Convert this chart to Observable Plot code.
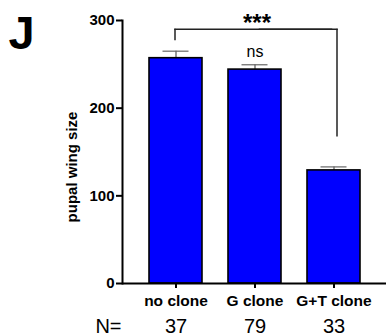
<!DOCTYPE html>
<html>
<head>
<meta charset="utf-8">
<script src="https://cdn.jsdelivr.net/npm/d3@7"></script>
<script src="https://cdn.jsdelivr.net/npm/@observablehq/plot@0.6"></script>
<style>
  html, body { margin: 0; padding: 0; background: #fff; }
  svg { font-family: "Liberation Sans", Arial, sans-serif; }
</style>
</head>
<body>
<div id="chart"></div>
<script>
const categories = ["no clone", "G clone", "G+T clone"];
const means = [257, 244, 129];
const upperErr = [265, 249.5, 133];
const counts = ["37", "79", "33"];
const yTicks = [0, 100, 200, 300];
const bracketTop = 290;
const bracketLeftEnd = 277;
const bracketRightEnd = 167;
const sigLabels = [{x: "G clone", y: 290, text: "***"}];
const nsLabels = [{x: "G clone", y: 249.5, text: "ns"}];

const bars = categories.map((c, i) => ({cat: c, mean: means[i], hi: upperErr[i], n: counts[i]}));
const bracketSegA = [{x1: categories[0], x2: categories[2], y: bracketTop}];
const bracketSegB = [{x1: categories[1], x2: categories[2], y: bracketTop}];

const chart = Plot.plot({
  width: 386,
  height: 336,
  marginLeft: 122,
  marginRight: 0,
  marginTop: 20,
  marginBottom: 53,
  style: {fontFamily: '"Liberation Sans", Arial, sans-serif', background: "#fff", overflow: "visible"},
  x: {domain: categories, paddingInner: 0.333, paddingOuter: 0.336, label: null},
  y: {domain: [0, 300], label: null},
  marks: [
    Plot.ruleX(bars, {x: "cat", y1: "mean", y2: "hi", stroke: "#555", strokeWidth: 1.2}),
    Plot.tickY(bars, {x: "cat", y: "hi", stroke: "#666", strokeWidth: 1.2, insetLeft: 13.5, insetRight: 13.5}),
    Plot.barY(bars, {x: "cat", y: "mean", fill: "#0000ff", stroke: "#000", strokeWidth: 1.6}),
    Plot.axisY({ticks: yTicks, tickSize: 6, tickPadding: 2, strokeWidth: 2, fontSize: 15, fontWeight: "bold", fill: "#000", label: null}),
    Plot.axisX({tickSize: 5, tickPadding: 6, strokeWidth: 2, fontSize: 15.5, fontWeight: "bold", fill: "#000", label: null}),
    Plot.frame({anchor: "left", stroke: "#000", strokeWidth: 2}),
    Plot.ruleY([0], {stroke: "#000", strokeWidth: 2}),
    Plot.ruleX([categories[0]], {y1: bracketLeftEnd, y2: bracketTop, stroke: "#222", strokeWidth: 1.5, dx: -1}),
    Plot.ruleX([categories[2]], {y1: bracketRightEnd, y2: bracketTop, stroke: "#222", strokeWidth: 1.5, dx: 3}),
    Plot.link(bracketSegA, {x1: "x1", x2: "x2", y1: "y", y2: "y", stroke: "#222", strokeWidth: 1.5, dx: -1.75}),
    Plot.link(bracketSegB, {x1: "x1", x2: "x2", y1: "y", y2: "y", stroke: "#222", strokeWidth: 1.5, dx: 3.75}),
    Plot.text(sigLabels, {x: "x", y: "y", text: "text", fontSize: 24, fontWeight: "bold", lineAnchor: "bottom", dy: 2, dx: 2}),
    Plot.text(nsLabels, {x: "x", y: "y", text: "text", fontSize: 16, lineAnchor: "bottom", dy: -8}),
    Plot.text(bars, {x: "cat", text: "n", frameAnchor: "bottom", dy: 49, fontSize: 20, lineAnchor: "bottom"}),
    Plot.text(["N="], {frameAnchor: "bottom-left", dx: -1, dy: 49, textAnchor: "end", fontSize: 20, lineAnchor: "bottom"}),
    Plot.text(["pupal wing size"], {frameAnchor: "left", textAnchor: "middle", dx: -50, dy: 15, rotate: -90, fontSize: 15, fontWeight: "bold"}),
    Plot.text(["J"], {frameAnchor: "top-left", dx: -114, dy: 28, textAnchor: "start", fontSize: 47, fontWeight: "bold", lineAnchor: "bottom"})
  ]
});
document.getElementById("chart").appendChild(chart);
</script>
</body>
</html>
